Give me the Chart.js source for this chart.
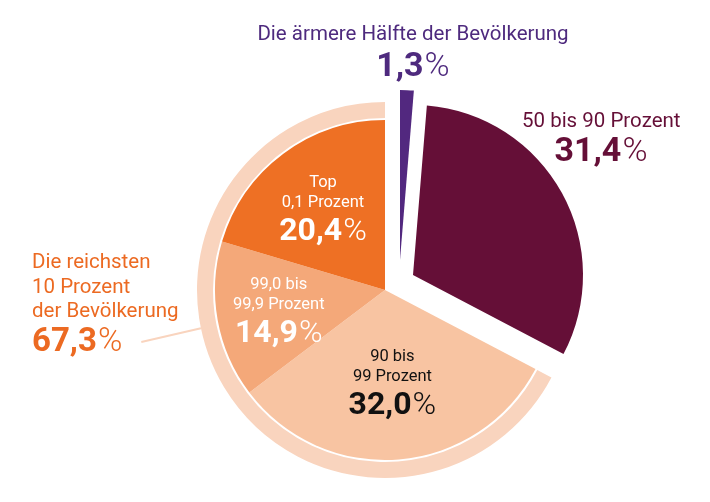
<!DOCTYPE html>
<html><head><meta charset="utf-8">
<script src="https://cdn.jsdelivr.net/npm/chart.js@4/dist/chart.umd.min.js"></script>
<style>html,body{margin:0;padding:0;background:#fff;} #wrap{width:710px;height:502px;position:relative} #wrap canvas{position:absolute;left:0;top:0}</style>
</head><body><div id="wrap"><canvas id="c" width="710" height="502"></canvas><canvas id="m" width="710" height="502"></canvas><canvas id="p" width="710" height="502"></canvas></div>
<script>
// ---- data ----
const categories = ['Die ärmere Hälfte der Bevölkerung', '50 bis 90 Prozent', '90 bis 99 Prozent', '99,0 bis 99,9 Prozent', 'Top 0,1 Prozent'];
const shares = [1.3, 31.4, 32.0, 14.9, 20.4];
const shareTexts = ['1,3', '31,4', '32,0', '14,9', '20,4'];
const labelLines = [['Die ärmere Hälfte der Bevölkerung'], ['50 bis 90 Prozent'], ['90 bis', '99 Prozent'], ['99,0 bis', '99,9 Prozent'], ['Top', '0,1 Prozent']];
const groupLines = ['Die reichsten', '10 Prozent', 'der Bevölkerung'];
const groupShare = [67.3];
const groupShareText = ['67,3'];

// ---- styles ----
const sliceColors = ['#52287f', '#650f37', '#f8c4a2', '#f4a879', '#ee7024'];
const ringColor = '#f9d4be';
const NONE = 'rgba(0,0,0,0)';
const FONT = 'Roboto, "Open Sans", sans-serif';

function drawNumber(ctx, txt, x, y, align, color, size) {
  ctx.fillStyle = color;
  ctx.font = 'bold ' + size + 'px ' + FONT;
  const w1 = ctx.measureText(txt).width;
  ctx.font = '300 ' + size + 'px ' + FONT;
  const w2 = ctx.measureText('%').width;
  const total = w1 + w2 + 1;
  let x0 = align === 'center' ? x - total / 2 : x;
  ctx.textAlign = 'left';
  ctx.font = 'bold ' + size + 'px ' + FONT;
  ctx.fillText(txt, x0, y);
  ctx.font = '300 ' + size + 'px ' + FONT;
  ctx.fillText('%', x0 + w1 + 1, y);
  return total;
}

const labelPlugin = {
  id: 'labels',
  afterDatasetsDraw(chart) {
    const ctx = chart.ctx;
    const meta = chart.getDatasetMeta(2);
    const ringMeta = chart.getDatasetMeta(0);
    const arcs = meta.data;
    const cx = arcs[2].x, cy = arcs[2].y;
    const R = arcs[2].outerRadius;
    ctx.save();
    ctx.textBaseline = 'alphabetic';

    // inside labels
    const inside = [
      {i: 2, f: 0.535, color: '#111111'},
      {i: 3, f: 0.635, color: '#ffffff'},
      {i: 4, f: 0.61, color: '#ffffff'}
    ];
    inside.forEach(o => {
      const a = arcs[o.i];
      const mid = (a.startAngle + a.endAngle) / 2;
      const x = cx + Math.cos(mid) * R * o.f;
      const y = cy + Math.sin(mid) * R * o.f;
      ctx.fillStyle = o.color;
      ctx.font = '16.5px ' + FONT;
      ctx.textAlign = 'center';
      ctx.fillText(labelLines[o.i][0], x, y - 20);
      ctx.fillText(labelLines[o.i][1], x, y);
      drawNumber(ctx, shareTexts[o.i], x, y + 33, 'center', o.color, 32);
    });

    // purple (top) label
    ctx.fillStyle = '#4e2a7e';
    ctx.font = '20.5px ' + FONT;
    ctx.textAlign = 'center';
    ctx.fillText(labelLines[0][0], cx + 28, cy - 250);
    drawNumber(ctx, shareTexts[0], cx + 28, cy - 214, 'center', '#4e2a7e', 34);

    // maroon label
    ctx.fillStyle = '#650f37';
    ctx.font = '20.5px ' + FONT;
    ctx.textAlign = 'left';
    ctx.fillText(labelLines[1][0], cx + 137, cy - 163);
    drawNumber(ctx, shareTexts[1], cx + 216, cy - 129, 'center', '#650f37', 34);

    // group label (left)
    ctx.fillStyle = '#ec6a22';
    ctx.font = '20.5px ' + FONT;
    ctx.textAlign = 'left';
    const lx = cx - 353;
    groupLines.forEach((t, k) => ctx.fillText(t, lx, cy - 22 + k * 24.5));
    const w = drawNumber(ctx, groupShareText[0], lx, cy + 61, 'left', '#ec6a22', 33);

    // leader line to ring
    const ra = ringMeta.data[1];
    const ang = Math.PI - 0.205;
    ctx.strokeStyle = ringColor;
    ctx.lineWidth = 2;
    ctx.beginPath();
    ctx.moveTo(lx + w + 19, cy + 52);
    ctx.lineTo(cx + Math.cos(ang) * ra.outerRadius, cy + Math.sin(ang) * ra.outerRadius);
    ctx.stroke();
    ctx.restore();
  }
};

const baseOpts = {
  responsive: false,
  animation: false,
  cutout: 0,
  plugins: {legend: {display: false}, tooltip: {enabled: false}}
};

// main pie (richest 10 % slices + outer ring)
new Chart(document.getElementById('c'), {
  type: 'doughnut',
  data: {
    labels: categories,
    datasets: [
      {data: [shares[0] + shares[1], groupShare[0]], backgroundColor: [NONE, ringColor], borderWidth: 0, weight: 16},
      {data: [100], backgroundColor: [NONE], borderWidth: 0, weight: 2},
      {data: shares, backgroundColor: [NONE, NONE, sliceColors[2], sliceColors[3], sliceColors[4]], borderWidth: 0, weight: 170}
    ]
  },
  options: Object.assign({}, baseOpts, {radius: 188, layout: {padding: {left: 60, top: 78, right: 0, bottom: 0}}}),
  plugins: [labelPlugin]
});

// exploded slice: 50 bis 90 Prozent
new Chart(document.getElementById('m'), {
  type: 'doughnut',
  data: {labels: categories, datasets: [{data: shares, backgroundColor: [NONE, sliceColors[1], NONE, NONE, NONE], borderWidth: 0}]},
  options: Object.assign({}, baseOpts, {radius: 170, layout: {padding: {left: 116, top: 48, right: 0, bottom: 0}}})
});

// exploded slice: ärmere Hälfte
new Chart(document.getElementById('p'), {
  type: 'doughnut',
  data: {labels: categories, datasets: [{data: shares, backgroundColor: [sliceColors[0], NONE, NONE, NONE, NONE], borderWidth: 0}]},
  options: Object.assign({}, baseOpts, {radius: 170, layout: {padding: {left: 90, top: 18, right: 0, bottom: 0}}})
});
</script>
</body></html>
